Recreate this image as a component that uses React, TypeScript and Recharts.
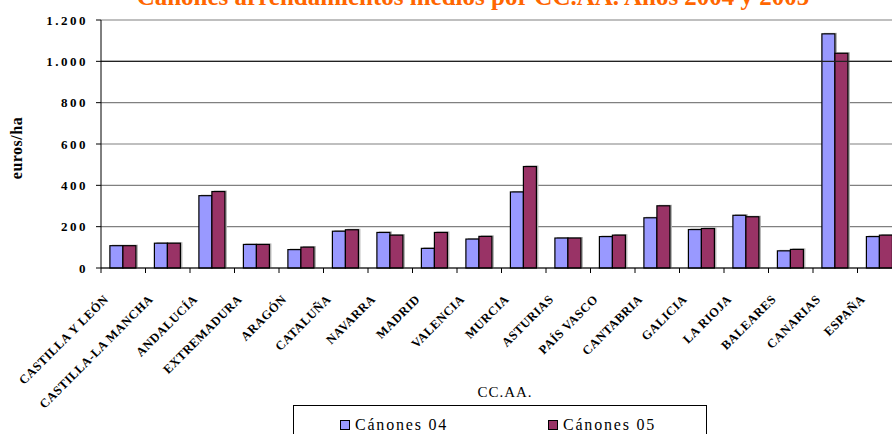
import { BarChart, Bar, XAxis, YAxis, CartesianGrid, ReferenceLine } from "recharts"

const regions = [
  "CASTILLA Y LEÓN",
  "CASTILLA-LA MANCHA",
  "ANDALUCÍA",
  "EXTREMADURA",
  "ARAGÓN",
  "CATALUÑA",
  "NAVARRA",
  "MADRID",
  "VALENCIA",
  "MURCIA",
  "ASTURIAS",
  "PAÍS VASCO",
  "CANTABRIA",
  "GALICIA",
  "LA RIOJA",
  "BALEARES",
  "CANARIAS",
  "ESPAÑA",
]
const canones04 = [108, 120, 350, 114, 89, 178, 172, 95, 140, 368, 145, 152, 243, 186, 255, 83, 1133, 152]
const canones05 = [108, 120, 370, 114, 101, 185, 159, 172, 153, 491, 145, 159, 301, 191, 248, 90, 1039, 159]
const yTicks = [0, 200, 400, 600, 800, 1000, 1200]

const data = regions.map((name, i) => ({ name, c04: canones04[i], c05: canones05[i] }))

const serif = "'Liberation Serif', 'Times New Roman', serif"
const BAND = 801 / 18

function CategoryTick(props: any) {
  const { x, y, payload } = props
  const axisY = y - 8
  const bx = x - BAND / 2
  const tx = x - 14
  const ty = axisY + 32
  return (
    <g>
      <line x1={bx} x2={bx} y1={axisY} y2={axisY + 5} stroke="#000" />
      <text
        x={tx}
        y={ty}
        textAnchor="end"
        transform={`rotate(-45, ${tx}, ${ty})`}
        fontFamily={serif}
        fontWeight="bold"
        fontSize={12.5}
        letterSpacing={0.5}
        fill="#000"
      >
        {payload.value}
      </text>
    </g>
  )
}

function ShadowBar(props: any) {
  const { x, y, width, height, fill } = props
  if (!height || height <= 0) return null
  return (
    <g>
      <rect x={x + 2} y={y - 1} width={width} height={height + 1} fill="#b0b0b0" />
      <rect x={x} y={y} width={width} height={height} fill={fill} stroke="#000" strokeWidth={1.2} />
    </g>
  )
}

function LegendItem({ color, label, left }: { color: string; label: string; left: number }) {
  return (
    <div style={{ position: "absolute", left, top: 10, display: "flex", alignItems: "center" }}>
      <span style={{ width: 8, height: 8, background: color, border: "1px solid #000", marginRight: 5 }} />
      <span style={{ fontFamily: serif, fontSize: 16, letterSpacing: 1.8, lineHeight: "17px" }}>{label}</span>
    </div>
  )
}

export default function App() {
  return (
    <div style={{ position: "fixed", left: 0, top: 0, width: 892, height: 434, overflow: "hidden", background: "#fff" }}>
      <BarChart
        width={905}
        height={434}
        data={data}
        margin={{ top: 20, right: 3, left: 0, bottom: 0 }}
        barCategoryGap="20%"
        barGap={0}
      >
        <CartesianGrid vertical={false} stroke="#808080" strokeWidth={1.2} />
        <ReferenceLine y={1000} stroke="#222" strokeWidth={1.2} />
        <XAxis
          dataKey="name"
          height={166}
          interval={0}
          tickLine={false}
          axisLine={{ stroke: "#000" }}
          tick={<CategoryTick />}
        />
        <YAxis
          width={101}
          domain={[0, 1200]}
          ticks={yTicks}
          interval={0}
          tickSize={5}
          tickMargin={8}
          axisLine={{ stroke: "#000" }}
          tickLine={{ stroke: "#000" }}
          tickFormatter={(v: number) => v.toLocaleString("de-DE")}
          tick={{ fill: "#000", fontFamily: serif, fontSize: 13, fontWeight: "bold", letterSpacing: 2.5 }}
        />
        <Bar dataKey="c04" fill="#9999FF" shape={<ShadowBar />} isAnimationActive={false} />
        <Bar dataKey="c05" fill="#993366" shape={<ShadowBar />} isAnimationActive={false} />
      </BarChart>

      <svg width={892} height={434} style={{ position: "absolute", left: 0, top: 0, pointerEvents: "none" }}>
        <text x={473} y={5} textAnchor="middle" fontFamily={serif} fontWeight="bold" fontSize={25} fill="#FF6600">
          Cánones arrendamientos medios por CC.AA. Años 2004 y 2005
        </text>
        <text
          x={22}
          y={148}
          textAnchor="middle"
          transform="rotate(-90, 22, 148)"
          fontFamily={serif}
          fontWeight="bold"
          fontSize={16}
          letterSpacing={0.5}
          fill="#000"
        >
          euros/ha
        </text>
        <text x={505} y={397} textAnchor="middle" fontFamily={serif} fontSize={15} letterSpacing={1} fill="#000">
          CC.AA.
        </text>
      </svg>

      <div
        style={{
          position: "absolute",
          left: 293,
          top: 405,
          width: 412,
          height: 60,
          border: "1px solid #000",
          background: "#fff",
        }}
      >
        <LegendItem color="#9999FF" label="Cánones 04" left={46} />
        <LegendItem color="#993366" label="Cánones 05" left={254} />
      </div>
    </div>
  )
}
